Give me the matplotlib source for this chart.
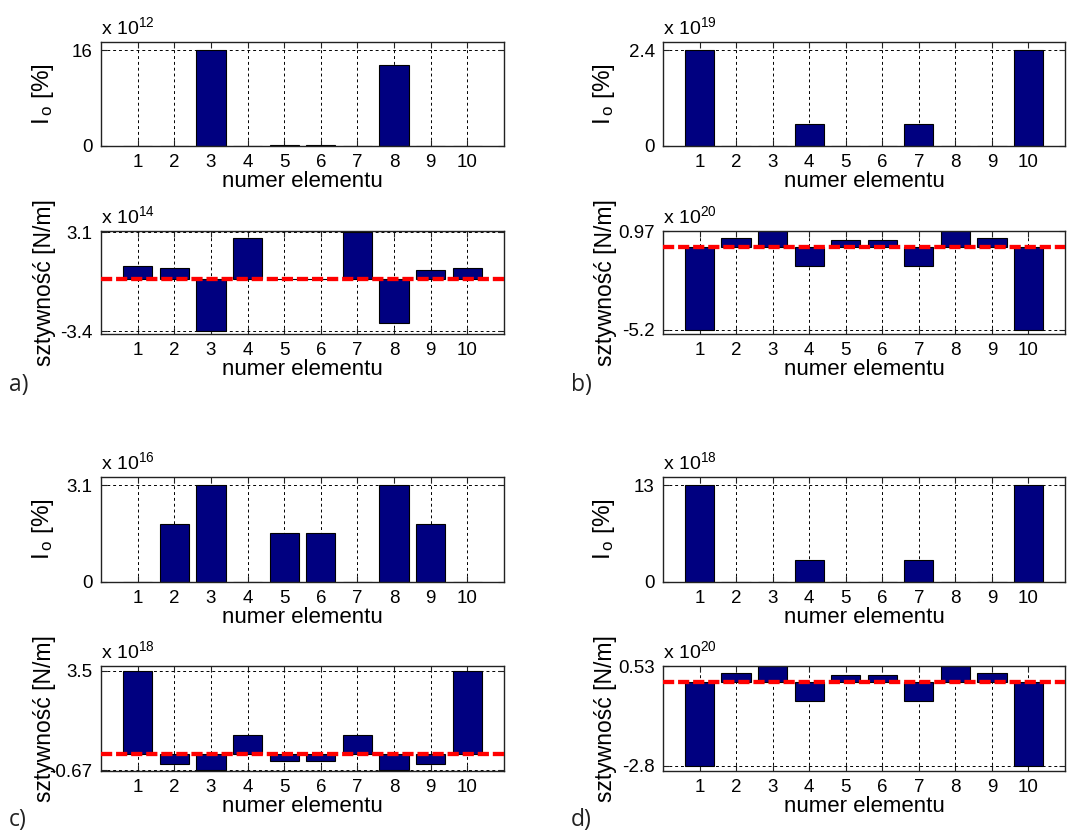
# -*- coding: utf-8 -*-
"""
Four panels (a-d): damage index I_o and stiffness change per element.
"""
#Imports
import matplotlib
matplotlib.use("Agg")
from matplotlib import pyplot as plt
import numpy as np

plt.rcParams['font.family'] = ['Liberation Sans', 'DejaVu Sans']
plt.rcParams['mathtext.default'] = 'regular'

#Data
elements = [1, 2, 3, 4, 5, 6, 7, 8, 9, 10]

a_io = [0, 0, 15.9, 0, 0.1, 0.2, 0, 13.4, 0, 0]
a_k = [0.82, 0.71, -3.44, 2.67, -0.04, -0.04, 3.08, -2.9, 0.58, 0.71]
b_io = [2.39, 0, 0, 0.55, 0, 0, 0.55, 0, 0, 2.39]
b_k = [-5.2, 0.55, 0.97, -1.21, 0.45, 0.45, -1.21, 0.97, 0.55, -5.2]
c_io = [0, 1.82, 3.06, 0, 1.55, 1.55, 0, 3.06, 1.82, 0]
c_k = [3.48, -0.42, -0.67, 0.81, -0.31, -0.31, 0.81, -0.67, -0.42, 3.48]
d_io = [12.9, 0, 0, 2.98, 0, 0, 2.98, 0, 0, 12.9]
d_k = [-2.8, 0.32, 0.53, -0.64, 0.25, 0.25, -0.64, 0.53, 0.32, -2.8]

io_exp = [12, 19, 16, 18]
k_exp = [14, 20, 18, 20]
k_ylim = [(-3.63, 3.15), (-5.46, 0.99), (-0.71, 3.68), (-2.97, 0.54)]
letters = ['a)', 'b)', 'c)', 'd)']

W, H = 1068, 834
fig = plt.figure(figsize=(W / 100, H / 100), dpi=100)


def box(x0, y0, x1, y1):
    # pixel box (top-left origin) -> figure fraction
    return [x0 / W, 1 - y1 / H, (x1 - x0) / W, (y1 - y0) / H]


def panel(rect, values, exp, ylabel, label_x, label_size, ylim=None, zero_line=False):
    ax = fig.add_axes(rect)
    ax.bar(elements, values, width=0.8, color='#000080', edgecolor='black',
           linewidth=0.8, zorder=2)
    ax.set_xlim(0, 11)
    vmin, vmax = min(0, min(values)), max(values)
    if ylim is None:
        ylim = (0, vmax * 1.085)
    ax.set_ylim(*ylim)
    ax.set_xticks(elements)
    ax.set_yticks([vmin, vmax])
    ax.set_yticklabels(['%.2g' % vmin, '%.2g' % vmax])
    ax.grid(True, color='black', linestyle=(0, (3, 3)), linewidth=0.7, zorder=0)
    ax.set_axisbelow(True)
    ax.tick_params(direction='in', length=4, top=True, right=True,
                   labelsize=13.5, pad=6, color='#222222')
    for s in ax.spines.values():
        s.set_color('#222222')
        s.set_linewidth(1.0)
    if zero_line:
        ax.axhline(0, color='red', linewidth=3.1, linestyle=(0, (2.6, 0.9)), zorder=3)
    ax.text(0, 1.04, r'x 10$^{%d}$' % exp, transform=ax.transAxes,
            fontsize=14, ha='left', va='bottom')
    ax.set_xlabel('numer elementu', fontsize=16, labelpad=0)
    ax.set_ylabel(ylabel, fontsize=label_size)
    ax.yaxis.set_label_coords(label_x, 0.5)
    return ax


cols = [(101, 504), (663, 1065), (101, 504), (663, 1065)]
rows = [((42, 146), (231, 334)), ((42, 146), (231, 334)),
        ((477, 582), (666, 771)), ((477, 582), (666, 771))]
label_xs = [-0.112, -0.115, -0.112, -0.115]
io_sets = [a_io, b_io, c_io, d_io]
k_sets = [a_k, b_k, c_k, d_k]
letter_pos = [(9, 385), (571, 385), (9, 820), (571, 820)]

for i in range(4):
    x0, x1 = cols[i]
    (t0, t1), (s0, s1) = rows[i]
    panel(box(x0, t0, x1, t1), io_sets[i], io_exp[i], r'I$_{\,o}$ [%]',
          label_xs[i], 17.5)
    panel(box(x0, s0, x1, s1), k_sets[i], k_exp[i], 'sztywność [N/m]',
          label_xs[i], 16.5, ylim=k_ylim[i], zero_line=True)
    fig.text(letter_pos[i][0] / W, 1 - letter_pos[i][1] / H, letters[i],
             fontsize=16.5, family=['Open Sans', 'DejaVu Sans'], va='center',
             color='#222222')

fig.savefig('out.png', dpi=100)
